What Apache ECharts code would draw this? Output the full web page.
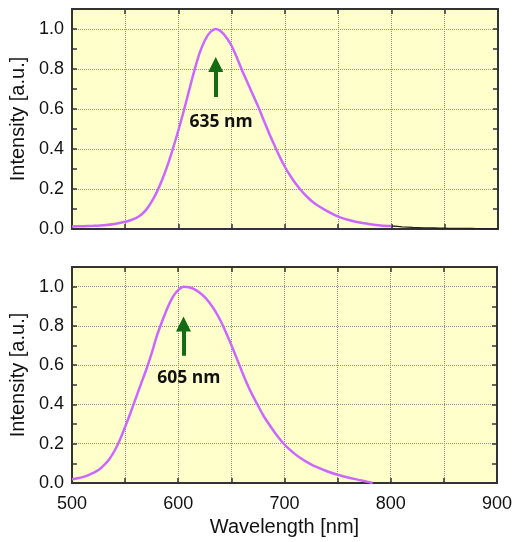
<!DOCTYPE html>
<html>
<head>
<meta charset="utf-8">
<script src="https://cdn.jsdelivr.net/npm/echarts@6/dist/echarts.min.js"></script>
<style>
  html, body { margin: 0; padding: 0; background: #ffffff; }
  #chart { width: 515px; height: 542px; }
</style>
</head>
<body>
<div id="chart"></div>
<script>
// Emission spectra, normalised intensity vs wavelength (nm)

// Upper panel: spectrum peaking at 635 nm
const topWavelength = [500, 510, 520, 530, 540, 550, 555, 560, 565, 570, 575, 580, 585, 590, 595,
  600, 605, 610, 615, 620, 625, 630, 635, 640, 645, 650, 655, 660, 665, 670, 675, 680, 685, 690,
  695, 700, 705, 710, 715, 720, 725, 730, 740, 750, 760, 770, 780, 790, 800];
const topIntensity = [0.012, 0.014, 0.016, 0.019, 0.025, 0.036, 0.044, 0.054, 0.071, 0.098, 0.138,
  0.188, 0.250, 0.322, 0.405, 0.495, 0.590, 0.693, 0.793, 0.882, 0.945, 0.985, 1.000, 0.988, 0.958,
  0.915, 0.855, 0.790, 0.730, 0.670, 0.610, 0.545, 0.480, 0.420, 0.362, 0.310, 0.266, 0.227, 0.194,
  0.165, 0.140, 0.120, 0.088, 0.062, 0.045, 0.032, 0.024, 0.018, 0.015];

// Upper panel: raw baseline beyond the fitted range
const tailWavelength = [800, 810, 820, 830, 840, 850, 860, 870, 880, 890, 900];
const tailIntensity = [0.015, 0.011, 0.008, 0.006, 0.005, 0.004, 0.003, 0.003, 0.002, 0.002, 0.002];

// Lower panel: spectrum peaking at 605 nm
const bottomWavelength = [500, 505, 510, 515, 520, 525, 530, 535, 540, 545, 550, 555, 560, 565, 570,
  575, 580, 585, 590, 595, 600, 605, 610, 615, 620, 625, 630, 635, 640, 645, 650, 655, 660, 665, 670,
  675, 680, 685, 690, 695, 700, 705, 710, 715, 720, 725, 730, 740, 750, 760, 770, 775, 783];
const bottomIntensity = [0.019, 0.024, 0.030, 0.039, 0.051, 0.066, 0.090, 0.120, 0.163, 0.218, 0.285,
  0.355, 0.430, 0.505, 0.578, 0.660, 0.750, 0.825, 0.893, 0.948, 0.982, 1.000, 0.997, 0.987, 0.970,
  0.946, 0.914, 0.874, 0.825, 0.767, 0.703, 0.636, 0.568, 0.503, 0.446, 0.395, 0.345, 0.303, 0.264,
  0.228, 0.196, 0.170, 0.147, 0.127, 0.110, 0.095, 0.082, 0.060, 0.042, 0.028, 0.016, 0.010, 0.000];

// Peak annotations: wavelength, arrow shaft start, arrow head centre, label height
const peakLabels = ['635 nm', '605 nm'];
const peakWavelength = [635, 605];
const arrowBase = [0.66, 0.648];
const arrowHead = [0.822, 0.81];
const labelHeight = [0.535, 0.533];

const xTicks = [500, 600, 700, 800, 900];

const pairs = (xs, ys) => xs.map((x, i) => [x, ys[i]]);

const axisColor = '#333333';
const gridLine = { show: true, lineStyle: { color: '#8a8a8a', type: 'dotted', width: 1 } };
const textFont = 'Liberation Sans, Arial, sans-serif';
const curveColor = '#cc66ff';
const arrowColor = '#136b13';

function xAxes(gridIndex, withLabels) {
  return [
    {
      type: 'value', gridIndex, position: 'bottom', min: 500, max: 900, interval: 50,
      axisLine: { show: true, onZero: false, lineStyle: { color: axisColor, width: 2 } },
      axisTick: { show: true, inside: true, length: 5, lineStyle: { color: axisColor, width: 1.5 } },
      axisLabel: {
        show: withLabels, margin: 12, color: '#111', fontSize: 18, fontFamily: textFont,
        formatter: v => (xTicks.includes(v) ? String(v) : '')
      },
      splitLine: gridLine,
      name: withLabels ? 'Wavelength [nm]' : '',
      nameLocation: 'middle', nameGap: 34,
      nameTextStyle: { color: '#111', fontSize: 20, fontFamily: textFont }
    },
    {
      type: 'value', gridIndex, position: 'top', min: 500, max: 900, interval: 50,
      axisLine: { show: true, onZero: false, lineStyle: { color: axisColor, width: 2 } },
      axisTick: { show: true, inside: true, length: 5, lineStyle: { color: axisColor, width: 1.5 } },
      axisLabel: { show: false },
      splitLine: { show: false }
    }
  ];
}

function yAxes(gridIndex) {
  return [
    {
      type: 'value', gridIndex, position: 'left', min: 0, max: 1.1, interval: 0.1,
      axisLine: { show: true, onZero: false, lineStyle: { color: axisColor, width: 2 } },
      axisTick: { show: true, inside: true, length: 5, lineStyle: { color: axisColor, width: 1.5 } },
      axisLabel: {
        margin: 8, color: '#111', fontSize: 18, fontFamily: textFont,
        formatter: v => (Math.round(v * 10) % 2 === 0 ? v.toFixed(1) : '')
      },
      splitLine: { show: false },
      name: 'Intensity [a.u.]', nameLocation: 'middle', nameGap: 41,
      nameTextStyle: { color: '#111', fontSize: 20, fontFamily: textFont }
    },
    {
      type: 'value', gridIndex, position: 'right', min: 0, max: 1.1, interval: 0.1,
      axisLine: { show: true, onZero: false, lineStyle: { color: axisColor, width: 2 } },
      axisTick: { show: true, inside: true, length: 5, lineStyle: { color: axisColor, width: 1.5 } },
      axisLabel: { show: false },
      splitLine: { show: false }
    },
    {
      type: 'value', gridIndex, position: 'left', min: 0, max: 1.1, interval: 0.2,
      axisLine: { show: false }, axisTick: { show: false }, axisLabel: { show: false },
      splitLine: gridLine
    }
  ];
}

function peakMarks(k) {
  const x = peakWavelength[k];
  return {
    markLine: {
      silent: true, animation: false,
      symbol: ['none', 'triangle'], symbolSize: [15, 15],
      label: { show: false },
      lineStyle: { color: arrowColor, width: 4, type: 'solid' },
      data: [[{ coord: [x, arrowBase[k]] }, { coord: [x, arrowHead[k]] }]]
    },
    markPoint: {
      silent: true, animation: false,
      symbol: 'circle', symbolSize: 0,
      label: {
        show: true, position: 'inside', formatter: peakLabels[k],
        color: '#111', fontSize: 17.5, fontWeight: 'bold', fontFamily: 'Open Sans, Noto Sans, sans-serif'
      },
      data: [{ coord: [x + 5, labelHeight[k]] }]
    }
  };
}

const chart = echarts.init(document.getElementById('chart'), null, { renderer: 'canvas' });
chart.setOption({
  animation: false,
  backgroundColor: '#ffffff',
  grid: [
    { left: 71, top: 9, width: 427, height: 220, show: true, backgroundColor: '#ffffcc', borderWidth: 0 },
    { left: 71, top: 267, width: 427, height: 216, show: true, backgroundColor: '#ffffcc', borderWidth: 0 }
  ],
  xAxis: [...xAxes(0, false), ...xAxes(1, true)],
  yAxis: [...yAxes(0), ...yAxes(1)],
  series: [
    {
      type: 'line', xAxisIndex: 0, yAxisIndex: 0, z: 2,
      data: pairs(tailWavelength, tailIntensity),
      showSymbol: false, smooth: 0.3,
      lineStyle: { color: '#222', width: 1.3 }
    },
    Object.assign({
      type: 'line', xAxisIndex: 0, yAxisIndex: 0, z: 3,
      data: pairs(topWavelength, topIntensity),
      showSymbol: false, smooth: 0.3,
      lineStyle: { color: curveColor, width: 2.5 }
    }, peakMarks(0)),
    Object.assign({
      type: 'line', xAxisIndex: 2, yAxisIndex: 3, z: 3,
      data: pairs(bottomWavelength, bottomIntensity),
      showSymbol: false, smooth: 0.3,
      lineStyle: { color: curveColor, width: 2.5 }
    }, peakMarks(1))
  ]
});
</script>
</body>
</html>
